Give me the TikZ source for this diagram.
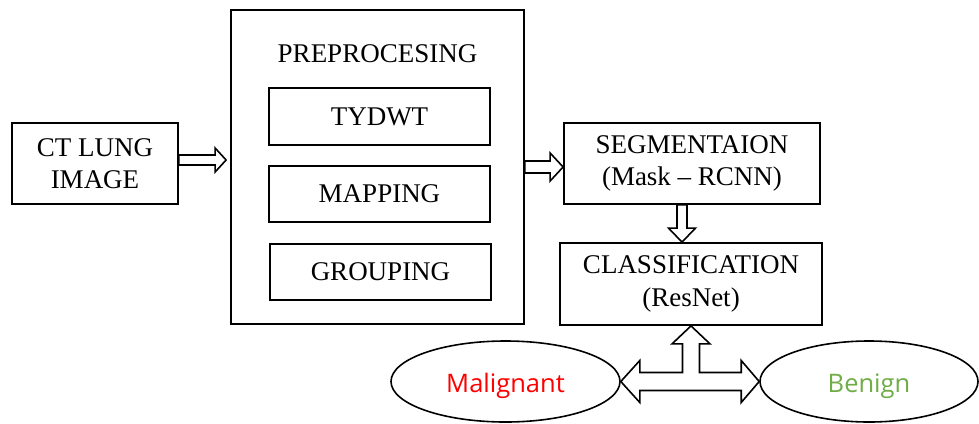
\documentclass[tikz,border=0pt]{standalone}
\usepackage{fontspec}
\setmainfont{Liberation Serif}
\newfontfamily\labelsans{Open Sans}
\usetikzlibrary{shapes.geometric,calc}
\definecolor{malred}{HTML}{FF0000}
\definecolor{bengreen}{HTML}{70AD47}
\tikzset{
  boxnode/.style={draw, line width=1.8pt, inner sep=0pt, align=center,
    font=\fontsize{27}{32.5}\selectfont},
  ellnode/.style={draw, ellipse, line width=1.6pt, inner sep=0pt,
    minimum width=229pt, minimum height=81pt, font=\labelsans\fontsize{25.5}{28}\selectfont},
  hollow/.style={draw, line width=1.6pt, fill=white, line join=miter}
}
\begin{document}
\begin{tikzpicture}[x=1pt,y=-1pt]
\useasboundingbox (0,0) rectangle (979,423);
% boxes
\node[boxnode, minimum width=166pt, minimum height=81pt] (ct) at (95,163.5) {CT LUNG\\IMAGE};
\node[boxnode, minimum width=293pt, minimum height=314pt] (pre) at (377.5,167) {};
\node[boxnode, draw=none] (pretitle) at (377.5,54) {PREPROCESING};
\node[boxnode, minimum width=221pt, minimum height=57pt] (ty) at (379.5,116.5) {TYDWT};
\node[boxnode, minimum width=221pt, minimum height=56pt] (map) at (379.5,194) {MAPPING};
\node[boxnode, minimum width=221pt, minimum height=56pt] (grp) at (380.5,272) {GROUPING};
\node[boxnode, minimum width=256pt, minimum height=81pt] (seg) at (692,163.5) {SEGMENTAION\\(Mask -- RCNN)};
\node[boxnode, minimum width=262pt, minimum height=82pt] (cls) at (691,284) {CLASSIFICATION\\(ResNet)};
\node[ellnode, text=malred] (mal) at (505.5,381.5) {\smash{\raisebox{-11pt}{Malignant}}};
\node[ellnode, minimum width=218pt, text=bengreen] (ben) at (869,381.5) {\smash{\raisebox{-11pt}{Benign}}};
% arrow CT -> preprocessing
\coordinate (a1s) at ($(ct.east)+(0,-3.5)$);
\coordinate (a1t) at ($(a1s -| pre.west)+(-4,0)$);
\draw[hollow] ($(a1s)+(0,-5)$) -- ($(a1t)+(-11,-5)$) -- ($(a1t)+(-11,-12)$) -- (a1t)
  -- ($(a1t)+(-11,12)$) -- ($(a1t)+(-11,5)$) -- ($(a1s)+(0,5)$) -- cycle;
% arrow preprocessing -> segmentation
\coordinate (a2s) at ($(seg.west -| pre.east)+(0,3.5)$);
\coordinate (a2t) at (a2s -| seg.west);
\draw[hollow] ($(a2s)+(0,-6)$) -- ($(a2t)+(-13,-6)$) -- ($(a2t)+(-13,-14)$) -- (a2t)
  -- ($(a2t)+(-13,14)$) -- ($(a2t)+(-13,6)$) -- ($(a2s)+(0,6)$) -- cycle;
% arrow segmentation -> classification
\coordinate (a3s) at ($(seg.south)+(-10,0)$);
\coordinate (a3t) at (a3s |- cls.north);
\draw[hollow] ($(a3s)+(-5,0)$) -- ($(a3t)+(-5,-14)$) -- ($(a3t)+(-13.5,-14)$) -- (a3t)
  -- ($(a3t)+(13.5,-14)$) -- ($(a3t)+(5,-14)$) -- ($(a3s)+(5,0)$) -- cycle;
% three-way arrow
\coordinate (T) at (cls.south);
\coordinate (L) at (mal.east);
\coordinate (R) at (ben.west);
\coordinate (J) at (T |- L);
\draw[hollow] (T) -- ($(T)+(19,18)$) -- ($(T)+(8.5,18)$) -- ($(J)+(8.5,-9)$)
  -- ($(R)+(-18,-9)$) -- ($(R)+(-18,-21)$) -- (R) -- ($(R)+(-18,21)$) -- ($(R)+(-18,9)$)
  -- ($(L)+(19,9)$) -- ($(L)+(19,21)$) -- (L) -- ($(L)+(19,-21)$) -- ($(L)+(19,-9)$)
  -- ($(J)+(-8.5,-9)$) -- ($(T)+(-8.5,18)$) -- ($(T)+(-19,18)$) -- cycle;
\end{tikzpicture}
\end{document}
